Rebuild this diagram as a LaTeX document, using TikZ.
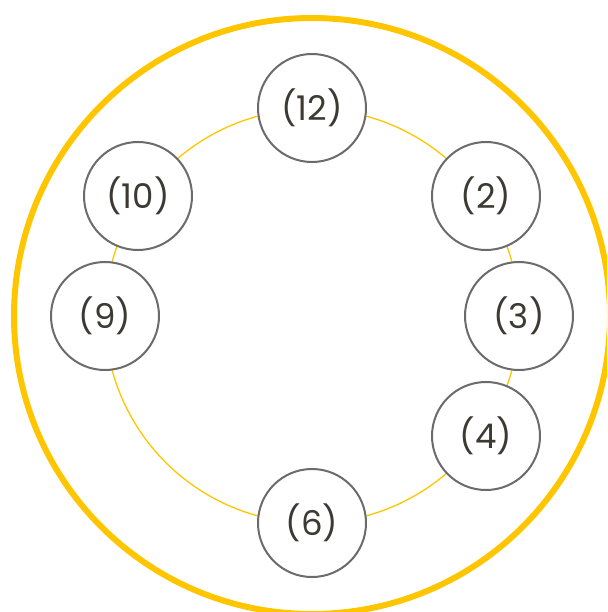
\documentclass[tikz,border=0pt]{standalone}
\usepackage{fontspec}
\setmainfont{Poppins}
\definecolor{clockyellow}{HTML}{FFC600}
\definecolor{rimgray}{HTML}{6B6B6B}
\definecolor{labelgray}{HTML}{3D3A33}

\begin{document}
\begin{tikzpicture}[x=1pt,y=-1pt,
	hour/.style={circle,draw=rimgray,line width=2pt,fill=white,minimum size=108pt,
		inner sep=0pt,text=labelgray,font=\fontsize{34}{40}\selectfont}]
		\useasboundingbox (0,0) rectangle (607,612);
		\begin{scope}
			\clip (0,0) rectangle (607,612);
			\draw[clockyellow,line width=6pt] (312,316) circle[radius=298];
		\end{scope}
		\draw[clockyellow,line width=1.3pt] (312,316) circle[radius=207];
		% hour marks
		\node[hour] (h12) at (312,108) {(12)};
		\node[hour] (h2) at (486,196) {(2)};
		\node[hour] (h3) at (519,316) {(3)};
		\node[hour] (h4) at (486,436) {(4)};
		\node[hour] (h6) at (312,523) {(6)};
		\node[hour] (h9) at (105,316) {(9)};
		\node[hour] (h10) at (138,196) {(10)};
	\end{tikzpicture}
\end{document}
